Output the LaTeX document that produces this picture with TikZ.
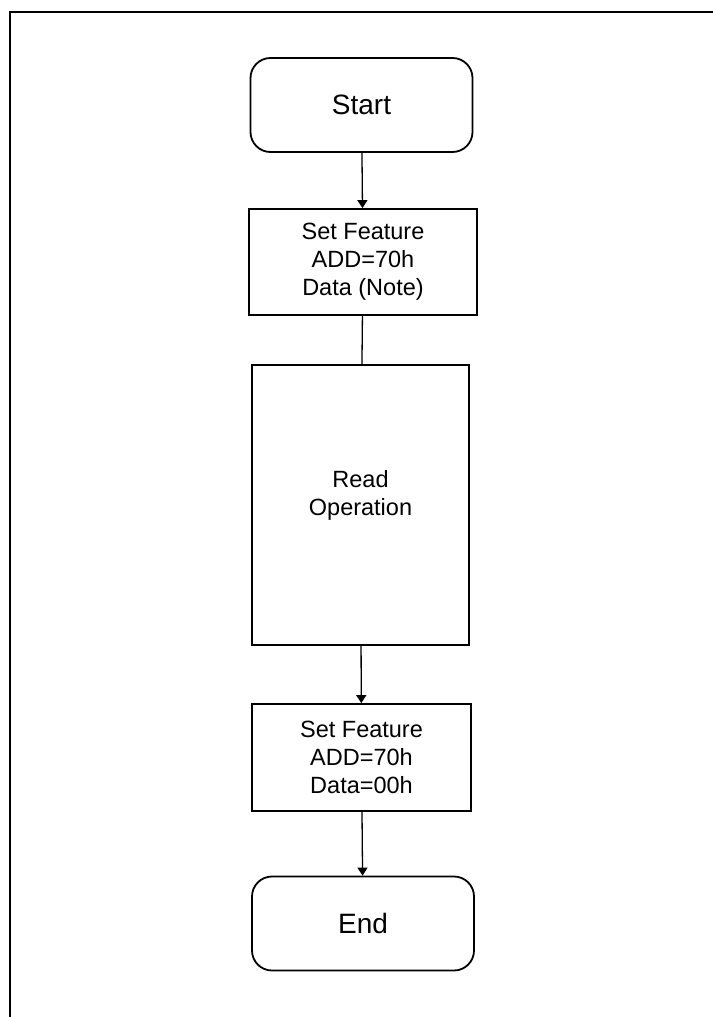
\documentclass[tikz,border=0pt]{standalone}
\usepackage{fontspec}
\setmainfont{Liberation Sans}
\usetikzlibrary{arrows.meta}

\begin{document}
\begin{tikzpicture}[x=1pt,y=-1pt]
			\tikzstyle{every node}=[font=\fontsize{23.5}{28}\selectfont, align=center, inner sep=0pt];
			\tikzstyle{terminal}=[draw, line width=1.8pt, rounded corners=20pt, minimum width=222pt, minimum height=94pt, font=\fontsize{28}{32}\selectfont];
			\tikzstyle{process}=[draw, line width=1.8pt, minimum width=222pt];
			\tikzstyle{link}=[line width=1.3pt];
			\useasboundingbox (0,0) rectangle (713,1017);
			
			%Frame
			\draw[line width=1.8pt] (10,1017) -- (10,12) -- (713,12);
			
			%Start
			\node[terminal] (start) at (361.5,105) {Start};
			
			%Set Feature
			\node[process, minimum width=228pt, minimum height=106pt] (setdata) at (363,262) {Set Feature\\ADD=70h\\Data (Note)};
			
			%Read
			\node[process, minimum width=217pt, minimum height=280pt] (read) at (360.5,505) {};
			\node (readtext) at ([yshift=10pt]read.center) {Read\\Operation};
			
			%Set Feature back
			\node[process, minimum width=219pt, minimum height=107pt] (setzero) at (361.5,757.5) {Set Feature\\ADD=70h\\Data=00h};
			
			%End
			\node[terminal] (finish) at (363,923.5) {End};
			
			%Lines
			\draw[link, -{Triangle[length=8pt,width=10pt]}] (start) -- (setdata);
			\draw[link] (setdata) -- (read);
			\draw[link, -{Triangle[length=8pt,width=10pt]}] (read) -- (setzero);
			\draw[link, -{Triangle[length=8pt,width=10pt]}] (setzero) -- (finish);
\end{tikzpicture}
\end{document}
